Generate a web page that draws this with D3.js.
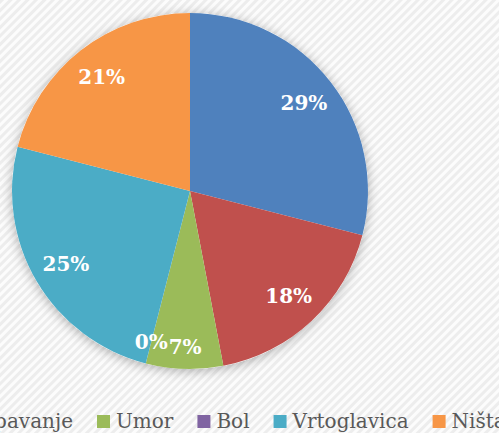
<html lang="hr">
<head>
  <meta charset="utf-8">
  <script src="https://d3js.org/d3.v7.min.js"></script>
  <style>
    body { margin: 0; background: #fff; }
    .label { fill: #fff; font-family: "DejaVu Serif", serif; font-weight: bold; font-size: 20px; }
    .legend text { fill: #595959; font-family: "DejaVu Serif", serif; font-size: 20px; }
  </style>
</head>
<body>
  <svg width="499" height="433" id="chart"></svg>
  <script>
    // DATA (clockwise from 12 o'clock; the first legend entry lies outside the visible area)
    const categories = ["Mučnina", "Spavanje", "Umor", "Bol", "Vrtoglavica", "Ništa"];
    const values = [29, 18, 7, 0, 25, 21];
    const colors = ["#4F81BD", "#C0504D", "#9BBB59", "#8064A2", "#4BACC6", "#F79646"];
    // END DATA

    const svg = d3.select("#chart");
    const width = 499, height = 433;
    const cx = 190, cy = 191, radius = 178;

    const defs = svg.append("defs");
    const pat = defs.append("pattern")
      .attr("id", "stripes")
      .attr("patternUnits", "userSpaceOnUse")
      .attr("width", 6).attr("height", 6)
      .attr("patternTransform", "rotate(45)");
    pat.append("rect").attr("width", 6).attr("height", 6).attr("fill", "#fcfcfc");
    pat.append("rect").attr("width", 3).attr("height", 6).attr("fill", "#ededed");

    const shadow = defs.append("filter").attr("id", "shadow")
      .attr("x", "-20%").attr("y", "-20%").attr("width", "140%").attr("height", "140%");
    shadow.append("feDropShadow")
      .attr("dx", 0).attr("dy", 2)
      .attr("stdDeviation", 6)
      .attr("flood-color", "#000")
      .attr("flood-opacity", 0.3);

    svg.append("rect").attr("width", width).attr("height", height).attr("fill", "url(#stripes)");

    const pie = d3.pie().sort(null).value(d => d);
    const arcs = pie(values);
    const arc = d3.arc().innerRadius(0).outerRadius(radius);

    const g = svg.append("g").attr("transform", "translate(" + cx + "," + cy + ")");

    g.append("circle").attr("r", radius).attr("fill", "#fff").attr("filter", "url(#shadow)");

    g.selectAll("path.slice").data(arcs).enter()
      .append("path")
      .attr("class", "slice")
      .attr("d", arc)
      .attr("fill", (d, i) => colors[i]);

    // small slices get pushed out a bit, like Excel's best fit
    function labelPos(d) {
      const r = (d.endAngle - d.startAngle) < 0.7 ? radius * 0.875 : radius * 0.81;
      return d3.arc().innerRadius(r).outerRadius(r).centroid(d);
    }

    g.selectAll("text.label").data(arcs).enter()
      .append("text")
      .attr("class", "label")
      .attr("text-anchor", "middle")
      .attr("dy", "0.35em")
      .attr("transform", d => "translate(" + labelPos(d) + ")")
      .text(d => d.data + "%");

    // legend (wider than the picture, so it is cut at both sides)
    const legend = svg.append("g").attr("class", "legend");
    const items = legend.selectAll("g").data(categories).enter().append("g");
    items.append("rect").attr("width", 13).attr("height", 13).attr("y", 415)
      .attr("fill", (d, i) => colors[i]);
    items.append("text").attr("y", 428).attr("x", 19).text(d => d);

    let x = 0;
    const xs = [];
    items.each(function () {
      xs.push(x);
      x += 19 + d3.select(this).select("text").node().getComputedTextLength() + 24;
    });
    const shift = 97 - xs[2];
    items.attr("transform", (d, i) => "translate(" + (xs[i] + shift) + ",0)");
  </script>
</body>
</html>
